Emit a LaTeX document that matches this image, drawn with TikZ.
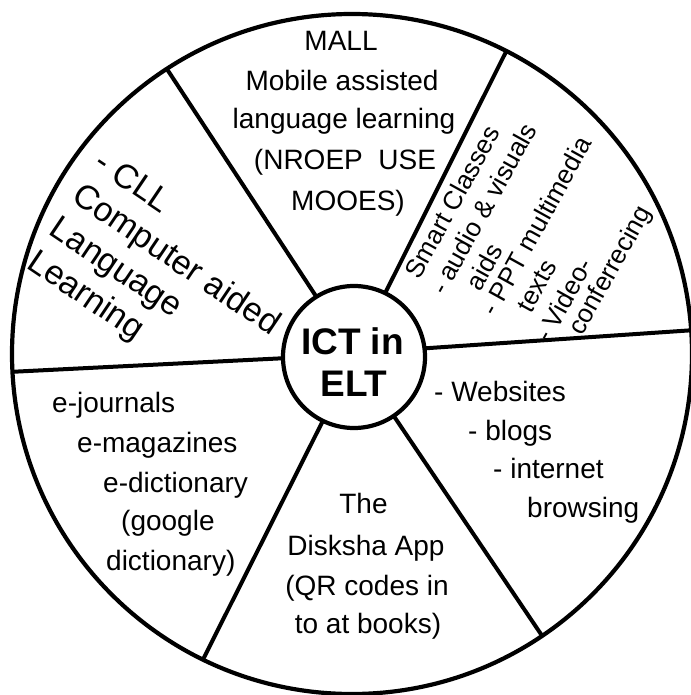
\documentclass[tikz,border=0pt]{standalone}
\usepackage{fontspec}
\setmainfont{Liberation Sans}

\newcommand\entryfont{\fontsize{28}{39}\selectfont}
\newcommand\smartfont{\fontsize{26}{28}\selectfont}
\newcommand\cllfont{\fontsize{34}{40}\selectfont}
\newcommand\hubfont{\bfseries\fontsize{37}{42}\selectfont}

\tikzset{
  wheel/.style={circle, draw, line width=4.2pt, inner sep=0pt, outer sep=0pt},
  spoke/.style={line width=4pt},
  entry/.style={inner sep=0pt, font=\entryfont},
  smart/.style={inner sep=0pt, font=\smartfont, rotate=61, anchor=mid},
}

\begin{document}
\begin{tikzpicture}[x=1pt, y=-1pt]
  \useasboundingbox (0,0) rectangle (690,695);

  % Wheel
  \draw (352,354) node(rim) [wheel, minimum size=680] {};
  \draw (354,357) node(hub) [wheel, minimum size=142] {};

  % Spokes
  \draw[spoke] (hub.122) -- (rim.123);
  \draw[spoke] (hub.64)  -- (rim.63);
  \draw[spoke] (hub.7)   -- (rim.4);
  \draw[spoke] (hub.181) -- (rim.183);
  \draw[spoke] (hub.244) -- (rim.244);
  \draw[spoke] (hub.304) -- (rim.304);

  % Hub
  \draw (352.5,354) node(ictA) [inner sep=0pt, anchor=base, font=\hubfont] {ICT in};
  \draw (354,396)   node(ictB) [inner sep=0pt, anchor=base, font=\hubfont] {ELT};

  % MALL
  \draw (341,51)  node(mall1) [entry, anchor=base] {MALL};
  \draw (342,91)  node(mall2) [entry, anchor=base] {Mobile assisted};
  \draw (344,129) node(mall3) [entry, anchor=base] {language learning};
  \draw (345,170) node(mall4) [entry, anchor=base] {(NROEP\ \ USE};
  \draw (348,210) node(mall5) [entry, anchor=base] {MOOES)};

  % Smart classes
  \draw (458,205) node(smart1) [smart] {Smart Classes};
  \draw (489,212) node(smart2) [smart] {- audio \& visuals};
  \draw (490,270) node(smart3) [smart] {aids};
  \draw (542,229) node(smart4) [smart] {- PPT multimedia};
  \draw (542,289) node(smart5) [smart] {texts};
  \draw (569,303) node(smart6) [smart] {- Video-};
  \draw (615,273) node(smart7) [smart] {conferrecing};

  % CLL
  \draw (164,278) node(cll) [inner sep=0pt, font=\cllfont, align=left, rotate=-34]
    {- CLL\\Computer aided\\Language\\Learning};

  % Websites
  \draw (434,401) node(web1) [entry, anchor=base west] {- Websites};
  \draw (468,440) node(web2) [entry, anchor=base west] {- blogs};
  \draw (493,478) node(web3) [entry, anchor=base west] {- internet};
  \draw (527,517) node(web4) [entry, anchor=base west] {browsing};

  % e-resources
  \draw (52,412)  node(ejr1) [entry, anchor=base west] {e-journals};
  \draw (77,452)  node(ejr2) [entry, anchor=base west] {e-magazines};
  \draw (103,492) node(ejr3) [entry, anchor=base west] {e-dictionary};
  \draw (121,530) node(ejr4) [entry, anchor=base west] {(google};
  \draw (106,570) node(ejr5) [entry, anchor=base west] {dictionary)};

  % Diksha
  \draw (363.5,513) node(app1) [entry, anchor=base] {The};
  \draw (366,555)   node(app2) [entry, anchor=base] {Disksha App};
  \draw (367,595)   node(app3) [entry, anchor=base] {(QR codes in};
  \draw (368,633)   node(app4) [entry, anchor=base] {to at books)};
\end{tikzpicture}
\end{document}
